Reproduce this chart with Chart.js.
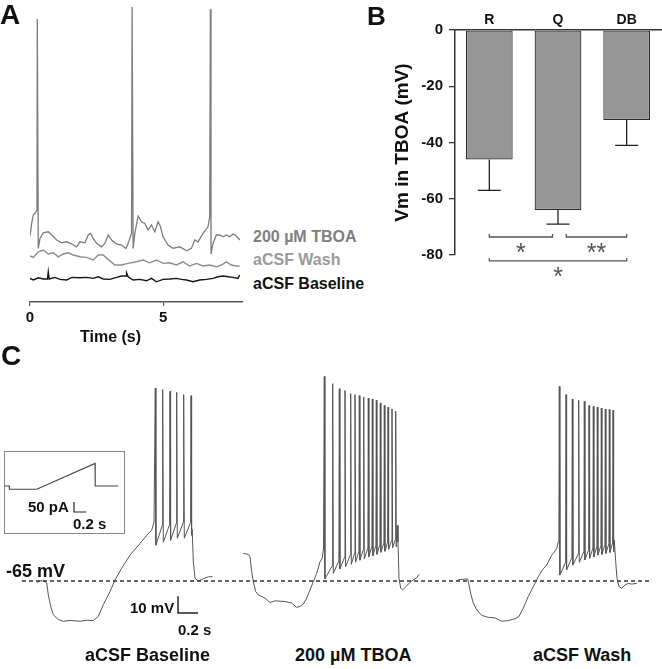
<!DOCTYPE html>
<html><head><meta charset="utf-8">
<script src="https://cdn.jsdelivr.net/npm/chart.js@4.4.1/dist/chart.umd.min.js"></script>
<style>
html,body{margin:0;padding:0;background:#fff;}
#wrap{position:relative;width:662px;height:669px;overflow:hidden;font-family:"Liberation Sans",Arial,sans-serif;font-weight:bold;color:#111;}
canvas{position:absolute;}
.t{position:absolute;white-space:nowrap;line-height:1;}
</style></head><body>
<div id="wrap">
  <canvas id="cA" width="230" height="350" style="left:20px;top:0px"></canvas>
  <canvas id="cB" width="282" height="290" style="left:380px;top:0px"></canvas>
  <canvas id="cC" width="662" height="270" style="left:0px;top:370px"></canvas>
  <div style="position:absolute;left:4px;top:451px;width:121px;height:83px;border:1px solid #888;box-sizing:border-box;background:#fff"></div>
  <canvas id="cI" width="121" height="83" style="left:4px;top:451px"></canvas>

  <div class="t" style="left:0px;top:1px;font-size:28px">A</div>
  <div class="t" style="left:367px;top:3px;font-size:26px">B</div>
  <div class="t" style="left:1px;top:342px;font-size:28px">C</div>
  <div class="t" style="left:80px;top:329px;font-size:16px">Time (s)</div>
  <div class="t" style="left:253px;top:229px;font-size:16px;color:#808080">200 µM TBOA</div>
  <div class="t" style="left:253px;top:252px;font-size:16px;color:#9a9a9a">aCSF Wash</div>
  <div class="t" style="left:253px;top:276px;font-size:16px;color:#111">aCSF Baseline</div>
  <div class="t" style="left:6px;top:562px;font-size:18px">-65 mV</div>
  <div class="t" style="left:130px;top:600px;font-size:15px">10 mV</div>
  <div class="t" style="left:178px;top:622px;font-size:15px">0.2 s</div>
  <div class="t" style="left:28px;top:499px;font-size:15px">50 pA</div>
  <div class="t" style="left:73px;top:516px;font-size:15px">0.2 s</div>
  <div class="t" style="left:85px;top:646px;font-size:18px">aCSF Baseline</div>
  <div class="t" style="left:295px;top:646px;font-size:18px">200 µM TBOA</div>
  <div class="t" style="left:533px;top:646px;font-size:18px">aCSF Wash</div>
</div>
<script>
// ---------------- DATA ----------------
// Panel A: [time (s), Vm (mV)]
const traceA_TBOA = [[0,-43],[0.064,-36.6],[0.124,-32.5],[0.225,-30.9],[0.262,-30],[0.274,65.5],[0.311,-49.2],[0.375,-44.2],[0.499,-41.4],[0.686,-40.9],[0.814,-42.5],[1.001,-45],[1.189,-46.4],[1.376,-45.9],[1.564,-47],[1.751,-48.4],[1.875,-45.9],[2.062,-46.4],[2.186,-42.5],[2.276,-41.7],[2.373,-44.2],[2.501,-46.7],[2.688,-48.4],[2.812,-46.7],[2.936,-42.5],[3.063,-45],[3.251,-47],[3.438,-47.5],[3.6,-49.2],[3.663,-47.5],[3.75,-44.2],[3.813,-41.7],[3.836,71.5],[3.873,-49.2],[3.937,-41.7],[4.061,-33],[4.188,-35.9],[4.312,-36.7],[4.436,-40],[4.563,-37.5],[4.687,-40.9],[4.811,-35.9],[4.901,-38.4],[4.998,-43.4],[5.186,-47.5],[5.373,-49.2],[5.624,-48.4],[5.876,-50.4],[6.063,-49.2],[6.187,-45],[6.311,-45.9],[6.498,-41.7],[6.686,-38.4],[6.749,-33.4],[6.775,70.4],[6.798,-52],[6.873,-46.7],[7.0,-42.5],[7.124,-42.5],[7.248,-43.4],[7.376,-42.5],[7.499,-43.4],[7.623,-42],[7.751,-43],[7.875,-45]];
const traceA_Wash = [[0,-53],[0.124,-53.7],[0.311,-50.9],[0.499,-50],[0.686,-52],[0.874,-51.4],[1.061,-53.4],[1.249,-52],[1.436,-51.4],[1.624,-52.5],[1.875,-53.4],[2.126,-53.7],[2.373,-55],[2.561,-52.5],[2.748,-52.5],[2.936,-54.7],[3.187,-57.5],[3.438,-57.5],[3.686,-56.7],[4.001,-55.9],[4.248,-55],[4.499,-56.4],[4.751,-55],[4.998,-56.7],[5.249,-56.4],[5.501,-57.5],[5.748,-55.9],[5.999,-58],[6.251,-56.7],[6.498,-58],[6.749,-57.5],[7.0,-58.4],[7.188,-57.5],[7.376,-55.9],[7.563,-57.5],[7.751,-58],[7.875,-58]];
const traceA_Base = [[0,-64.2],[0.124,-65],[0.311,-63.9],[0.499,-64.5],[0.656,-64.5],[0.686,-60.9],[0.72,-64.5],[0.937,-63.7],[1.125,-64.7],[1.376,-65],[1.564,-63.7],[1.875,-63.9],[2.126,-63.7],[2.373,-64.2],[2.561,-63.4],[2.748,-64.5],[2.999,-64.7],[3.251,-63.7],[3.438,-63],[3.608,-63],[3.626,-61.4],[3.686,-63.4],[3.873,-65],[4.124,-64.7],[4.376,-65.4],[4.563,-64.2],[4.751,-65.9],[4.998,-64.7],[5.249,-64.5],[5.501,-64.2],[5.689,-64.7],[5.876,-65],[6.123,-65.9],[6.374,-65],[6.626,-64.7],[6.873,-64.2],[7.061,-63.4],[7.248,-63],[7.436,-63.4],[7.623,-63.7],[7.811,-64.2],[7.875,-62.5]];
const xTicksA = [0, 5];

// Panel B
const regions = ['R', 'Q', 'DB'];
const vmMean = [-46, -64, -32];
const vmSem = [11, 5, 9];
const yTicksB = [0, -20, -40, -60, -80];
const sigFrom = [0, 1.12, 0];
const sigTo = [0.92, 2, 2];
const sigLevel = [-73.6, -73.6, -82.1];
const sigMark = ['*', '**', '*'];

// Panel C: subthreshold segments [t (s), Vm (mV)], spikes [t, threshold, peak, trough]
const baselinePre = [[0,-65.8],[0.04,-64.8],[0.08,-65.4],[0.097,-66.2],[0.113,-73.2],[0.137,-80.1],[0.163,-85],[0.213,-87.9],[0.263,-88.9],[0.33,-88.4],[0.43,-88.9],[0.5,-88.3],[0.563,-88.5],[0.613,-86],[0.663,-79.1],[0.73,-71.3],[0.78,-64.4],[0.847,-57.5],[0.93,-49.7],[1.03,-42.8],[1.097,-37.9],[1.147,-35],[1.17,-30.1]];
const baselineSpikes = [[1.183,-30.1,49.3,-43.8],[1.257,-32.1,48.4,-42.1],[1.33,-31.5,47.4,-40.9],[1.397,-30.9,46.8,-39.7],[1.467,-30.3,45.4,-39.7],[1.54,-30.3,44.8,-37.9]];
const baselinePost = [[1.552,-34.5],[1.563,-53.6],[1.58,-63.4],[1.613,-65],[1.663,-63.8],[1.713,-62.5],[1.757,-62.5]];

const tboaPre = [[0,-48.7],[0.05,-49.3],[0.067,-50.7],[0.084,-59.5],[0.1,-65.4],[0.124,-71.3],[0.15,-73.2],[0.217,-75.2],[0.267,-77.8],[0.317,-76.8],[0.417,-77.2],[0.484,-78.1],[0.534,-80.7],[0.567,-80.1],[0.6,-78.7],[0.634,-75.2],[0.667,-70.3],[0.7,-65.4],[0.734,-60.5],[0.767,-53.6],[0.79,-51.3],[0.802,-45.6]];
const tboaSpikes = [[0.81,-45.6,56.2,-63.8],[0.894,-56,51.9,-60.5],[0.96,-53,48.9,-57.9],[1.017,-51,47.9,-56.6],[1.074,-49.5,46,-55.2],[1.117,-48.5,45.4,-53.9],[1.16,-47.5,44.8,-52.7],[1.204,-46.5,44,-51.9],[1.25,-45.5,43.4,-50.6],[1.29,-44.5,42.8,-50],[1.33,-44,42.1,-49.2],[1.37,-43.5,40.5,-48],[1.41,-42.5,39,-47.4],[1.447,-42,37.9,-46.2],[1.487,-41,36.9,-45.4],[1.524,-40.5,35.6,-44.8]];
const tboaPost = [[1.53,-42.8],[1.54,-32.1],[1.547,-41.9],[1.557,-63.4],[1.574,-69.3],[1.594,-70.3],[1.634,-67.8],[1.684,-65],[1.734,-63.1],[1.757,-61.1]];

const washPre = [[0,-64.2],[0.094,-63.8],[0.107,-67.4],[0.127,-73.2],[0.15,-78.1],[0.184,-82.1],[0.234,-85.4],[0.3,-86.6],[0.367,-86.9],[0.434,-88.9],[0.5,-88.5],[0.567,-87.4],[0.607,-86],[0.65,-81.1],[0.7,-74.2],[0.75,-68.4],[0.8,-62.5],[0.84,-58.5],[0.884,-55.6],[0.934,-49.7],[0.96,-47.8],[0.984,-45.8],[1.0,-41.9]];
const washSpikes = [[1.01,-38,50.3,-61.5],[1.077,-54,45.4,-58.5],[1.14,-51,42.8,-55.6],[1.204,-49,42.1,-54],[1.26,-47.5,41.5,-52.6],[1.307,-46.5,39,-51.6],[1.35,-45.5,38.5,-50.7],[1.39,-44.5,38.1,-49.7],[1.43,-44,37.5,-49.3],[1.47,-43.5,36.9,-48.7],[1.51,-43,36.6,-48.1],[1.547,-42.5,36.2,-47.8]];
const washPost = [[1.56,-40.9],[1.574,-53.6],[1.587,-63.4],[1.607,-68.4],[1.634,-69.3],[1.667,-67.4],[1.7,-66.4],[1.734,-66.9],[1.784,-66.4]];

const restingVm = -65;           // dashed reference (mV)
const scaleBarC = [10, 0.2];     // mV, s

// Inset: injected current [t (s), I (pA)]
const rampCurrent = [[0,0],[0.086,0],[0.088,-16],[0.532,-16],[1.48,113],[1.483,0],[1.859,0]];
const scaleBarInset = [50, 0.2]; // pA, s

// ---------------- LAYOUT / STYLE ----------------
const FONT = '"Liberation Sans", Arial, sans-serif';
const traceOffsetC = [0.37, 2.433, 4.583];
const dashSpan = [0.22, 6.5];
const barAnchorC = [1.78, -74];
const barAnchorI = [1.138, -80];
const base = {animation:false, responsive:false, devicePixelRatio:1, events:[],
  plugins:{legend:{display:false}, tooltip:{enabled:false}}};

function pairsToXY(arr, off) { return arr.map(p => ({x: p[0] + (off||0), y: p[1]})); }
function line(points, color, width, extra) {
  return Object.assign({data: points, showLine:true, borderColor:color, borderWidth:width,
    pointRadius:0, tension:0, fill:false}, extra||{});
}
function spikeTrain(pre, spikes, post, off) {
  const pts = pairsToXY(pre, off);
  spikes.forEach(s => {
    pts.push({x: s[0] - 0.004 + off, y: s[1]});
    pts.push({x: s[0] + off, y: s[2]});
    pts.push({x: s[0] + 0.006 + off, y: s[3]});
  });
  return pts.concat(pairsToXY(post, off));
}
function lBar(anchor, dy, dx) {
  return [{x:anchor[0], y:anchor[1]}, {x:anchor[0], y:anchor[1]-dy}, {x:anchor[0]+dx, y:anchor[1]-dy}];
}

// ---------------- PANEL A ----------------
new Chart(document.getElementById('cA'), {
  type:'scatter',
  data:{datasets:[
    line(pairsToXY(traceA_Wash), '#8e8e8e', 1.4),
    line(pairsToXY(traceA_TBOA), '#7c7c7c', 1.3),
    line(pairsToXY(traceA_Base), '#151515', 1.4)
  ]},
  options: Object.assign({}, base, {
    layout:{padding:{left:10, right:7, top:2, bottom:0}},
    scales:{
      x:{type:'linear', min:0, max:8, position:'bottom',
        afterBuildTicks: s => { s.ticks = xTicksA.map(v => ({value:v})); },
        afterFit: s => { s.height = 48; },
        grid:{display:true, drawOnChartArea:false, drawTicks:true, tickLength:4, color:'#555', lineWidth:1.2},
        border:{display:true, color:'#555', width:1.5},
        ticks:{color:'#111', padding:3, maxRotation:0, font:{family:FONT, size:15, weight:'bold'}}
      },
      y:{type:'linear', min:-76, max:74, display:false}
    }
  })
});

// ---------------- PANEL B ----------------
const errPlugin = {
  id:'errAndSig',
  afterDatasetsDraw(chart) {
    const ctx = chart.ctx, ys = chart.scales.y, xs = chart.scales.x;
    const meta = chart.getDatasetMeta(0);
    ctx.save();
    ctx.strokeStyle = '#222'; ctx.lineWidth = 1.3;
    meta.data.forEach((bar, i) => {
      const y0 = ys.getPixelForValue(vmMean[i]);
      const y1 = ys.getPixelForValue(vmMean[i] - vmSem[i]);
      ctx.beginPath();
      ctx.moveTo(bar.x, y0); ctx.lineTo(bar.x, y1);
      ctx.moveTo(bar.x - 11.5, y1); ctx.lineTo(bar.x + 11.5, y1);
      ctx.stroke();
    });
    ctx.strokeStyle = '#555'; ctx.fillStyle = '#555'; ctx.lineWidth = 1.3;
    ctx.font = '25px ' + FONT; ctx.textAlign = 'center'; ctx.textBaseline = 'alphabetic';
    sigFrom.forEach((f, i) => {
      const xa = xs.getPixelForValue(f), xb = xs.getPixelForValue(sigTo[i]);
      const y = ys.getPixelForValue(sigLevel[i]);
      ctx.beginPath();
      ctx.moveTo(xa, y - 3); ctx.lineTo(xa, y); ctx.lineTo(xb, y); ctx.lineTo(xb, y - 3);
      ctx.stroke();
      ctx.fillText(sigMark[i], (xa + xb) / 2, y + 24);
    });
    ctx.restore();
  }
};
new Chart(document.getElementById('cB'), {
  type:'bar',
  data:{labels:regions, datasets:[{data:vmMean, backgroundColor:'#969696', borderColor:'#2a2a2a',
    borderWidth:1.2, borderSkipped:false, barPercentage:0.68, categoryPercentage:1}]},
  options: Object.assign({}, base, {
    layout:{padding:{top:0, left:0, right:1, bottom:35}},
    scales:{
      x:{position:'top', afterFit: s => { s.height = 30; },
        grid:{display:false, drawTicks:false, tickLength:0}, border:{display:true, color:'#333', width:1.5},
        ticks:{padding:1, color:'#111', font:{family:FONT, size:14, weight:'bold'}}},
      y:{min:-80, max:0,
        afterBuildTicks: s => { s.ticks = yTicksB.map(v => ({value:v})); },
        afterFit: s => { s.width = 75; },
        grid:{display:true, drawOnChartArea:false, drawTicks:true, tickLength:6, color:'#333', lineWidth:1.3},
        border:{display:true, color:'#333', width:1.5},
        ticks:{padding:6, color:'#111', font:{family:FONT, size:15, weight:'bold'}},
        title:{display:true, text:'Vm in TBOA (mV)', color:'#111', padding:{top:11, bottom:0},
          font:{family:FONT, size:19, weight:'bold'}}}
    }
  }),
  plugins:[errPlugin]
});

// ---------------- PANEL C ----------------
new Chart(document.getElementById('cC'), {
  type:'scatter',
  data:{datasets:[
    line([{x:dashSpan[0], y:restingVm}, {x:dashSpan[1], y:restingVm}], '#333', 1.5, {borderDash:[4,3]}),
    line(spikeTrain(baselinePre, baselineSpikes, baselinePost, traceOffsetC[0]), '#555', 1),
    line(spikeTrain(tboaPre, tboaSpikes, tboaPost, traceOffsetC[1]), '#555', 1),
    line(spikeTrain(washPre, washSpikes, washPost, traceOffsetC[2]), '#555', 1),
    line(lBar(barAnchorC, scaleBarC[0], scaleBarC[1]), '#222', 1.5)
  ]},
  options: Object.assign({}, base, {
    layout:{padding:0},
    scales:{
      x:{type:'linear', min:0, max:6.62, display:false},
      y:{type:'linear', min:-100, max:60, display:false}
    }
  })
});

// ---------------- INSET ----------------
new Chart(document.getElementById('cI'), {
  type:'scatter',
  data:{datasets:[
    line(pairsToXY(rampCurrent), '#444', 1.1),
    line(lBar(barAnchorI, scaleBarInset[0], scaleBarInset[1]), '#222', 1.2)
  ]},
  options: Object.assign({}, base, {
    layout:{padding:0},
    scales:{
      x:{type:'linear', min:0, max:1.967, display:false},
      y:{type:'linear', min:-240, max:175, display:false}
    }
  })
});
</script>
</body></html>
